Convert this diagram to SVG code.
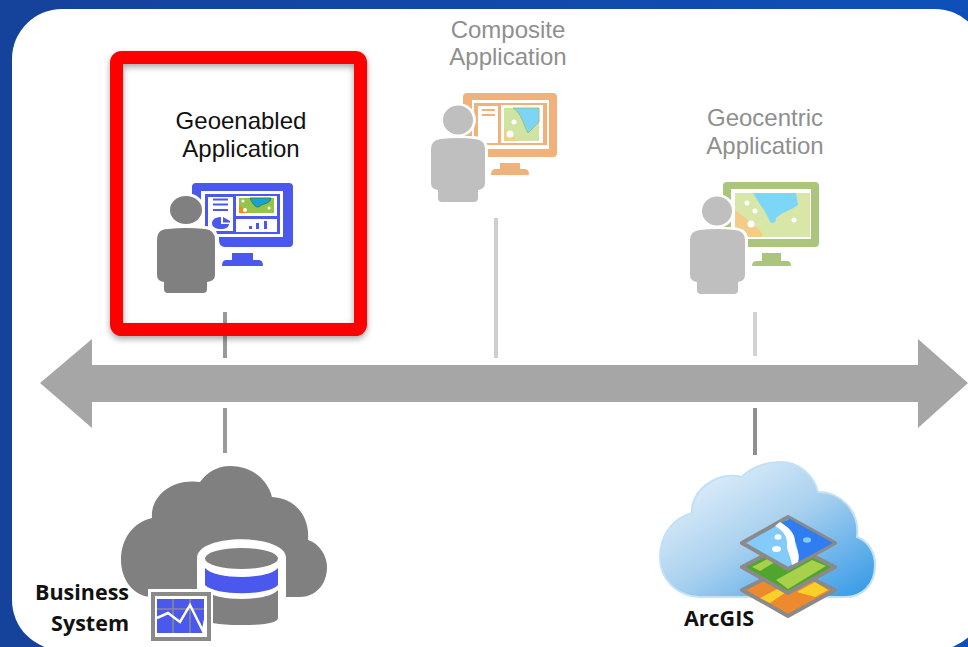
<svg xmlns="http://www.w3.org/2000/svg" width="968" height="647" viewBox="0 0 968 647">
<style>
.t{font-family:"Liberation Sans",Arial,sans-serif;font-size:24px;text-anchor:middle}
.b{font-family:"Open Sans","Noto Sans",sans-serif;font-size:21.5px;font-weight:700;fill:#111}
.pl{fill:#bfbfbf}
.pd{fill:#808080}
.bl{fill:#4a58ee}
.or{fill:#f0b27a}
.gr{fill:#abc67c}
.w{fill:#fff}
.lay{stroke:#8a8a8a;stroke-width:4;stroke-linejoin:round}
</style>
<defs>
<filter id="sh" x="-10%" y="-10%" width="120%" height="120%"><feDropShadow dx="0" dy="3" stdDeviation="3" flood-color="#000" flood-opacity=".35"/></filter>
<linearGradient id="cl" x1="0" y1="0" x2="1" y2="1"><stop offset="0" stop-color="#f2f8fd"/><stop offset=".5" stop-color="#a9d1ef"/><stop offset="1" stop-color="#2f97e6"/></linearGradient>
<linearGradient id="bg" x1="0" y1="0" x2="1" y2="0"><stop offset="0" stop-color="#15429a"/><stop offset="1" stop-color="#0e50b8"/></linearGradient>
</defs>
<rect width="968" height="647" fill="url(#bg)"/>
<rect x="12" y="9" width="973" height="641" rx="50" fill="#fff"/>
<g id="connectors">
<path d="M225 312V358M225 408V453" stroke="#9a9a9a" stroke-width="4" fill="none"/>
<path d="M496 218V358" stroke="#cfcfcf" stroke-width="4" fill="none"/>
<path d="M755 312V356" stroke="#d2d2d2" stroke-width="4" fill="none"/>
<path d="M755 408V455" stroke="#8f8f8f" stroke-width="4" fill="none"/>
<path id="axis" d="M40 383L92 339V365H918V339L968 383L918 428V402H92V428Z" fill="#a6a6a6"/>
</g>
<g id="geoenabled">
<rect x="116.5" y="57.5" width="244" height="272" rx="5" fill="none" stroke="#f00" stroke-width="13" filter="url(#sh)"/>
<text class="t" x="241" y="129" fill="#111">Geoenabled</text>
<text class="t" x="241" y="157" fill="#111">Application</text>
<path class="bl" d="M196 183H289Q293 183 293 187V243Q293 247 289 247H225Q219 247 219 240V200H192V187Q192 183 196 183Z"/>
<rect class="w" x="201" y="191" width="82" height="46"/>
<rect class="bl" x="205" y="194" width="75" height="40"/>
<rect class="w" x="208" y="197" width="25" height="34"/>
<rect class="w" x="236" y="196" width="41" height="20"/>
<rect class="w" x="236" y="219" width="41" height="13"/>
<path d="M213 199.500H228M213 204.500H228M213 210H228" stroke="#4a58ee" stroke-width="2"/>
<path class="bl" d="M221 217C214 217 212 221 212 223C212 227 216 229 221 229C226 229 229 227 229 224H221Z"/>
<path class="bl" d="M223 217L230 221V222.500H223Z"/>
<rect x="239" y="198" width="35" height="15" fill="#95c44a"/>
<path d="M250 198C253 205 257 209 260 206C264 203 270 204 271 198Z" fill="#17a2d3" stroke="#2a8a4a" stroke-width="1"/>
<path d="M239 205L249 213H239Z" fill="#f08c24"/>
<circle class="w" cx="243" cy="201" r="1.500"/><circle class="w" cx="245" cy="210" r="2"/><circle class="w" cx="269" cy="208" r="1.500"/>
<path class="bl" d="M249 226h3v3h-3zM256 223h3v6h-3zM264 221h3v8h-3z"/>
<path class="bl" d="M232 253H253V260H259Q263 260 263 266H222Q222 260 226 260H232Z"/>
<ellipse class="w" cx="186" cy="210" rx="19" ry="17"/>
<path class="w" d="M154 238Q154 226 168 226H205Q218 226 218 240V290H154Z"/>
<ellipse class="pd" cx="186" cy="210" rx="16" ry="14"/>
<path class="pd" d="M157 240Q157 229 168 229Q186 227 205 229Q215 230 215 240V275Q215 281 207 282V289Q207 293 203 293H168Q164 293 164 289V282Q157 281 157 275Z"/>
</g>
<g id="composite">
<text class="t" x="508" y="38" fill="#8f8f8f">Composite</text>
<text class="t" x="508" y="65" fill="#8f8f8f">Application</text>
<rect class="or" x="463" y="93" width="94" height="64" rx="4"/>
<rect class="w" x="472" y="100" width="77" height="49"/>
<rect class="or" x="474" y="103" width="73" height="42"/>
<rect class="w" x="478" y="106" width="20" height="37"/>
<rect class="w" x="501" y="105" width="42" height="38"/>
<path d="M482 110H495M482 115H495" stroke="#f0b27a" stroke-width="2"/>
<rect x="504" y="108" width="35" height="33" fill="#cfe3a2"/>
<path d="M513 108C521 112 523 124 528 133L539 122V108Z" fill="#7fd3f5" stroke="#9cc07c" stroke-width="1"/>
<path d="M504 128L518 141H504Z" fill="#f3cf82"/>
<circle class="w" cx="514" cy="122" r="2.500"/><circle class="w" cx="510" cy="134" r="3.500"/>
<path class="or" d="M500 163H520V169H525Q529 169 529 175H491Q491 169 495 169H500Z"/>
<ellipse class="w" cx="458" cy="120" rx="18" ry="17"/>
<path class="w" d="M428 150Q428 136 445 136H472Q488 136 488 150V205H428Z"/>
<ellipse class="pl" cx="458" cy="120" rx="15" ry="14.500"/>
<path class="pl" d="M431 149Q431 140 441 139Q458 137 475 139Q485 140 485 149V183Q485 189 478 190V198Q478 202 474 202H442Q438 202 438 198V190Q431 189 431 183Z"/>
</g>
<g id="geocentric">
<text class="t" x="765" y="126" fill="#8f8f8f">Geocentric</text>
<text class="t" x="765" y="154" fill="#8f8f8f">Application</text>
<rect class="gr" x="723" y="182" width="96" height="65" rx="4"/>
<rect class="w" x="731" y="189" width="80" height="50"/>
<rect x="735" y="193" width="75" height="44" fill="#d8e7a8"/>
<path d="M753 193C760 205 765 210 770 222Q776 225 776 218C782 212 792 210 798 205L796 193Z" fill="#7ed6f6"/>
<path d="M735 210C745 218 755 225 762 233V237H735Z" fill="#f4cb87"/>
<circle class="w" cx="747" cy="203" r="2.500"/><circle class="w" cx="755" cy="211" r="2.500"/><circle class="w" cx="751" cy="224" r="3.500"/><circle class="w" cx="794" cy="220" r="2.500"/>
<path class="gr" d="M762 253H781V261H787Q791 261 791 266H752Q752 261 757 261H762Z"/>
<ellipse class="w" cx="717" cy="211" rx="18" ry="17"/>
<path class="w" d="M687 240Q687 227 703 227H733Q748 228 748 240V295H687Z"/>
<ellipse class="pl" cx="717" cy="211" rx="15" ry="14.500"/>
<path class="pl" d="M690 240Q690 231 700 230Q717 228 735 230Q745 231 745 240V275Q745 281 738 282V290Q738 294 734 294H701Q697 294 697 290V282Q690 281 690 275Z"/>
</g>
<g id="business-system">
<path class="pd" d="M153 597C132 597 121 578 121 560C121 538 134 522 152 518C150 498 170 478 200 482C207 472 218 466 230 466C252 466 268 480 272 497C294 498 310 515 308 540C320 544 327 556 327 567C327 585 315 597 300 597Z"/>
<path class="w" d="M197 640V558C197 533 286 533 286 558V640Z"/>
<path class="pd" d="M205 590C215 602 268 602 278 590V618Q278 625 241 625Q205 625 205 618Z"/>
<path class="bl" d="M205 568C215 580 268 580 278 568V585C268 596 215 596 205 585Z"/>
<ellipse class="pd" cx="241.500" cy="558.500" rx="36.500" ry="10.500"/>
<text class="b" x="129" y="600" text-anchor="end">Business</text>
<text class="b" x="129" y="631" text-anchor="end">System</text>
<rect class="w" x="148" y="589" width="65" height="55"/>
<rect class="w" x="153" y="594" width="56" height="45" stroke="#8a8a8a" stroke-width="4"/>
<rect class="bl" x="157" y="599" width="47" height="34"/>
<path d="M173 599V633M190 599V633M157 609H204" stroke="#8a8a8a" stroke-width="1.500"/>
<path d="M157 618L168 613L180 622L190 605L203 631L205 620" stroke="#fff" stroke-width="2.500" fill="none"/>
</g>
<g id="arcgis">
<path fill="url(#cl)" stroke="#c3e1f6" stroke-width="2" d="M703 597C675 597 660 578 660 557C660 535 673 518 692 513C690 492 715 471 742 477C752 466 768 462 780 462C800 462 814 476 818 492C840 492 860 510 857 537C868 541 875 552 875 565C875 585 862 597 845 597Z"/>
<path class="lay" d="M742 590L788 567L835 590L788 616Z" fill="#ee8a2e"/>
<path d="M760 598L785 585L795 586L770 603ZM797 592L815 582L828 590L815 597Z" fill="#f7d12a"/>
<path class="lay" d="M742 567L788 543L835 567L788 593Z" fill="#4fa52e"/>
<path d="M752 567L775 555L782 558L760 571ZM776 580L812 560L826 566L788 589ZM790 558L798 553L808 556L800 561Z" fill="#a8d04a"/>
<path class="lay" d="M742 543L788 517L835 543L788 569Z" fill="#82cbfb"/>
<path d="M780 523L790 519L833 543L798 562C800 550 795 532 780 523Z" fill="#2f7df0"/>
<path class="w" d="M775 526L780 522C790 528 795 534 795 542C795 548 801 554 798 562L792 565C791 556 786 550 787 543C787 535 782 530 775 526Z"/>
<ellipse class="w" cx="778" cy="537" rx="3.500" ry="2.800"/><ellipse class="w" cx="776.500" cy="549" rx="4.500" ry="3"/><ellipse cx="807" cy="540" rx="4" ry="2.800" fill="#82cbfb"/>
<text class="b" x="719" y="626" text-anchor="middle">ArcGIS</text>
</g>
</svg>
